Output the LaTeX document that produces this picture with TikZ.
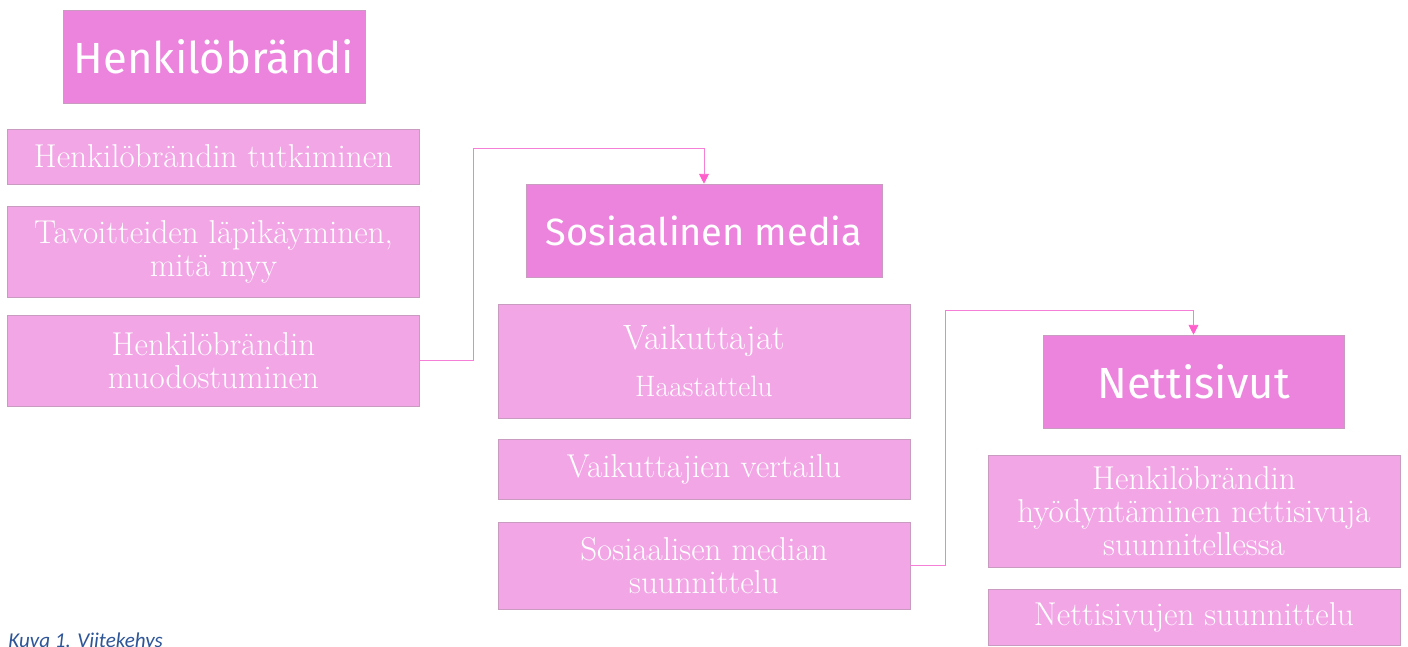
\documentclass[tikz,border=0pt]{standalone}
\usepackage{fontspec}
\usepackage{xcolor}
\usetikzlibrary{arrows.meta}
\newfontfamily\headfont{Fira Sans}
\newfontfamily\capfont{Carlito}
\definecolor{headpink}{HTML}{EC84DE}
\definecolor{boxpink}{HTML}{F2A6E6}
\definecolor{edgepink}{HTML}{C99BC0}
\definecolor{linkpink}{HTML}{F57FD6}
\definecolor{tippink}{HTML}{FF5FCB}
\definecolor{capblue}{HTML}{2E5597}
\tikzset{
  headbox/.style={draw=edgepink, fill=headpink, text=white, minimum height=2.325cm,
    inner sep=2pt, font=\headfont\fontsize{31}{36}\selectfont},
  itembox/.style={draw=edgepink, fill=boxpink, text=white, minimum width=10.3cm,
    align=center, inner sep=2pt, font=\fontsize{23.5}{23.5}\selectfont},
  link/.style={draw=linkpink, line width=0.6pt, -{Triangle[length=7pt,width=7pt,color=tippink]}}
}

\begin{document}
\begin{tikzpicture}[x=0.025cm, y=-0.025cm]
\useasboundingbox (0,0) rectangle (1408,646);
\clip (0,0) rectangle (1408,646);

\node[headbox, minimum width=7.55cm] (brand) at (214,56.5) {Henkilöbrändi};
\node[itembox, minimum height=1.375cm] (study) at (213.5,156.5) {Henkilöbrändin tutkiminen};
\node[itembox, minimum height=2.275cm] (goals) at (213.5,251.5) {Tavoitteiden läpikäyminen,\\mitä myy};
\node[itembox, minimum height=2.275cm] (form) at (213.5,360.5) {Henkilöbrändin\\muodostuminen};

\node[headbox, minimum width=8.9cm, font=\headfont\fontsize{27}{32}\selectfont] (some) at (704,230.5) {Sosiaalinen media};
\node[itembox, minimum height=2.85cm] (infl) at (704,361) {{\fontsize{25}{25}\selectfont Vaikuttajat}\\[10pt]{\fontsize{21}{21}\selectfont Haastattelu}};
\node[itembox, minimum height=1.5cm] (comp) at (704,469) {Vaikuttajien vertailu};
\node[itembox, minimum height=2.175cm] (plan) at (704,565.5) {Sosiaalisen median\\suunnittelu};

\node[headbox, minimum width=7.525cm] (web) at (1193.5,381.5) {Nettisivut};
\node[itembox, minimum height=2.8cm] (use) at (1194,511) {Henkilöbrändin\\hyödyntäminen nettisivuja\\suunnitellessa};
\node[itembox, minimum height=1.4cm] (webplan) at (1194,617) {Nettisivujen suunnittelu};

\node[font=\capfont\itshape\fontsize{15}{18}\selectfont, text=capblue, anchor=base west, inner sep=0pt] (cap) at (8,647) {Kuva 1. Viitekehys};

\coordinate (bend1) at (473,148);
\coordinate (bend2) at (945,310);
\draw[link] (form.east) -| (bend1) -| (some.north);
\draw[link] (plan.east) -| (bend2) -| (web.north);
\end{tikzpicture}
\end{document}
